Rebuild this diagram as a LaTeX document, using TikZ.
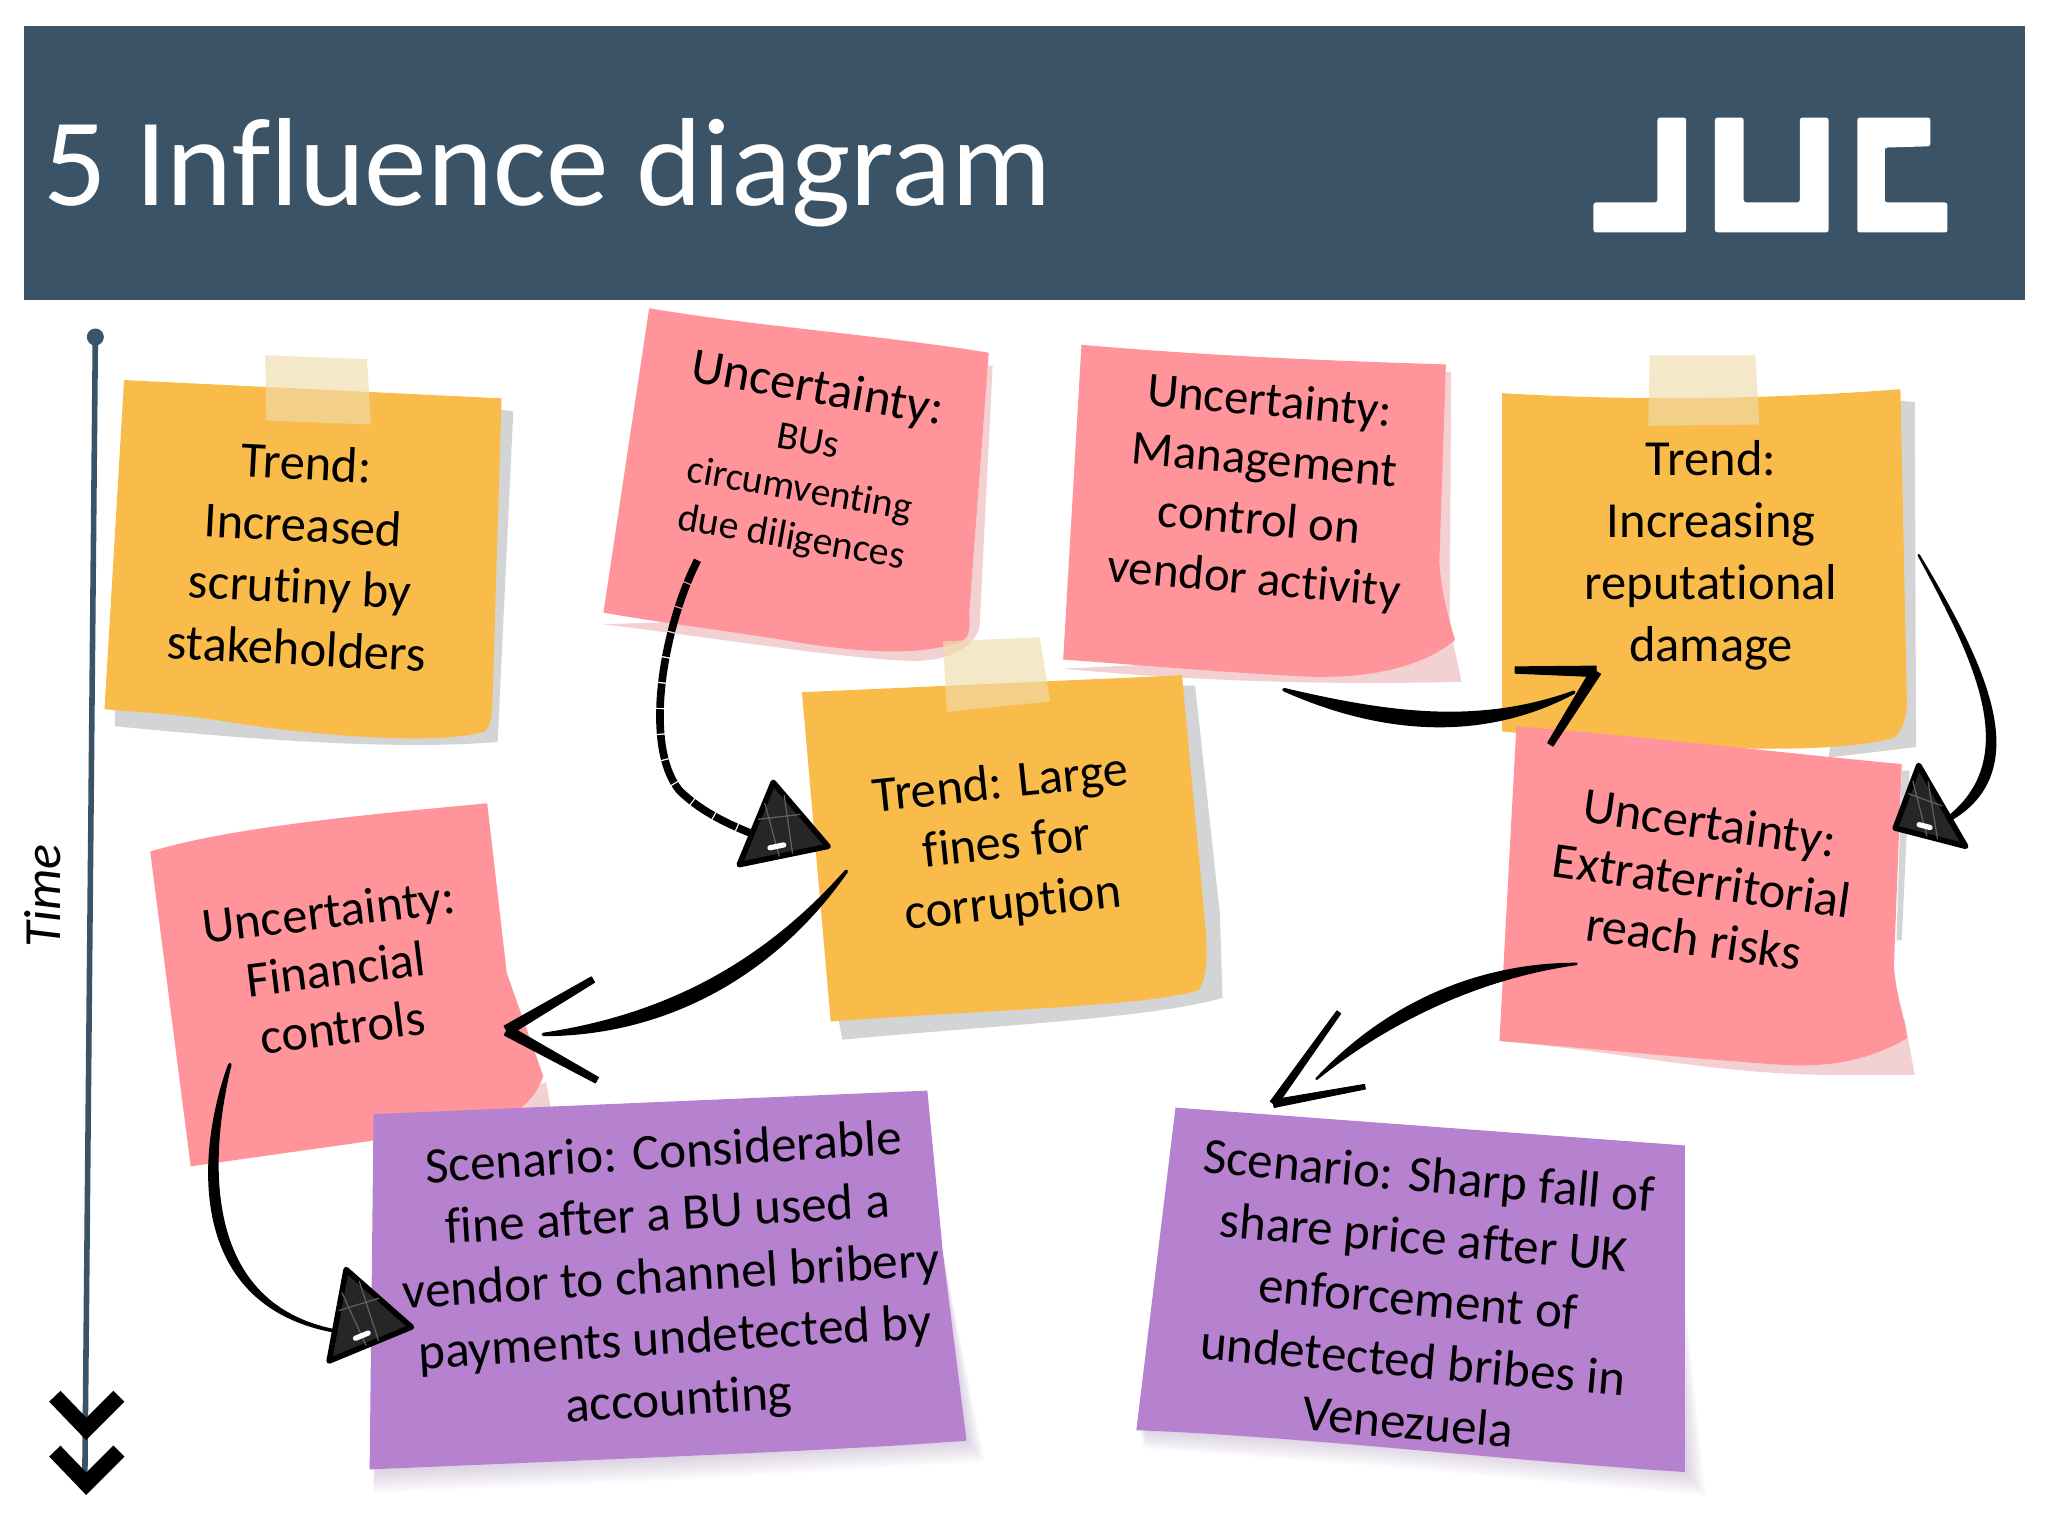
\documentclass[tikz,border=0pt]{standalone}
\usepackage{fontspec}
\setmainfont[Ligatures=NoCommon]{Carlito}
\usetikzlibrary{calc}
\definecolor{slate}{RGB}{58,83,102}
\definecolor{noteorange}{RGB}{249,188,74}
\definecolor{notepink}{RGB}{255,149,155}
\definecolor{notepurple}{RGB}{182,129,207}
\definecolor{shadegrey}{RGB}{211,212,214}
\definecolor{shadepink}{RGB}{243,208,210}
\definecolor{tapecol}{RGB}{240,220,171}
\tikzset{
  notetext/.style={align=center,inner sep=0pt,font=\fontsize{29}{35.5}\selectfont},
  tape/.style={fill=tapecol,fill opacity=0.65},
  sketch/.style={draw=black,fill=black,line width=2pt,line join=round,line cap=round},
  thinsketch/.style={sketch,line width=1.4pt},
  chevron/.style={draw=black,line width=9pt,line join=miter},
}
% scribbled triangle head
\newcommand{\scribblehead}[3]{%
  \draw[draw=black,fill=black!85,line width=3.2pt,line join=round] (#1) -- (#2) -- (#3) -- cycle;
  \draw[black!62,line width=0.7pt] ($(#1)!.25!(#2)$) -- ($(#3)!.55!(#2)$) ($(#1)!.45!(#2)$) -- ($(#1)!.5!(#3)$) ($(#1)!.2!(#3)$) -- ($(#2)!.6!(#3)$);
  \draw[white,line width=3pt,line cap=round] ($(#2)!.34!(#3)!.14!(#1)$) -- ($(#2)!.52!(#3)!.14!(#1)$);
}
% one barb of an open head, tapering away from the tip
\newcommand{\taperbarb}[3][3pt]{%
  \fill[line join=round,draw=black,line width=0.6pt] ($(#2)!#1!90:(#3)$) -- ($(#3)!{0.6*#1}!-90:(#2)$) -- ($(#3)!{0.6*#1}!90:(#2)$) -- ($(#2)!#1!-90:(#3)$) -- cycle;
}
\begin{document}
\begin{tikzpicture}[x=0.75pt,y=0.75pt,yscale=-1,xscale=1]
\useasboundingbox (0,0) rectangle (1568,1176);
\fill[white] (0,0) rectangle (1568,1176);

% banner
\fill[slate] (18,20) rectangle (1550,230);
\node (title) [anchor=base west,inner sep=0pt,text=white,font=\fontsize{72}{80}\selectfont] at (33,157) {5 Influence diagram};
\fill[white,rounded corners=1.5pt] (1269,90) -- (1291,90) -- (1291,178) -- (1220,178) -- (1220,155) -- (1269,155) -- cycle;
\fill[white,rounded corners=1.5pt] (1313,90) -- (1335,90) -- (1335,155) -- (1378,155) -- (1378,90) -- (1400,90) -- (1400,178) -- (1313,178) -- cycle;
\fill[white,rounded corners=1.5pt] (1422,90) -- (1478,90) -- (1478,112) -- (1443,113) -- (1443,155) -- (1491,155) -- (1491,178) -- (1422,178) -- cycle;

% time axis
\coordinate (timeStart) at (73,258);
\coordinate (timeEnd) at (65,1128);
\draw[slate,line width=3.2pt] (timeStart) -- (timeEnd);
\fill[slate] (timeStart) circle (6.5);
\draw[chevron] (42,1069) -- (66,1094) -- (91,1069);
\draw[chevron] (42,1111) -- (66,1136) -- (91,1111);
\node (time) [rotate=90,inner sep=0pt,font=\itshape\fontsize{30}{32}\selectfont] at (33,686) {Time};

% note shadows
\fill[shadegrey] (370,312) -- (393,315) -- (381,568) .. controls (300,575) and (180,565) .. (88,556) -- (88,530) -- cycle;
\fill[shadepink] (462,478) .. controls (560,490) and (650,505) .. (700,506) .. controls (725,506) and (745,497) .. (750,480) -- (760,280) -- (740,280) -- (700,470) -- cycle;
\fill[shadepink] (814,512) .. controls (900,520) and (1000,525) .. (1119,522) -- (1110,480) -- (1111,285) -- (1090,285) -- (1060,500) -- cycle;
\fill[shadegrey] (1440,305) -- (1466,308) -- (1467,572) -- (1400,580) -- cycle;

% notes, top row
\fill[noteorange] (95,291) -- (384,305) -- (377,540) .. controls (376,552) and (375,556) .. (371,560) .. controls (340,570) and (250,565) .. (170,552) .. controls (130,546) and (100,545) .. (80,543) -- cycle;
\fill[notepink] (497,236) .. controls (580,250) and (670,256) .. (757,270) -- (742,470) .. controls (743,482) and (742,488) .. (736,491) .. controls (700,505) and (640,497) .. (600,490) .. controls (550,482) and (500,476) .. (462,469) -- cycle;
\fill[notepink] (828,264) .. controls (920,272) and (1010,276) .. (1107,279) -- (1102,430) .. controls (1103,450) and (1108,470) .. (1114,490) .. controls (1090,510) and (1050,520) .. (1000,518) .. controls (940,515) and (870,509) .. (814,505) -- cycle;
\fill[noteorange] (1150,301) .. controls (1250,307) and (1350,306) .. (1455,298) -- (1460,540) .. controls (1459,552) and (1456,560) .. (1450,565) .. controls (1400,578) and (1300,575) .. (1150,560) -- cycle;

% middle note
\fill[shadegrey] (905,525) -- (915,525) -- (934,700) -- (936,764) .. controls (880,780) and (760,785) .. (645,796) -- (640,770) -- cycle;
\fill[noteorange] (614,530) -- (905,517) -- (922,700) .. controls (925,730) and (925,745) .. (918,758) .. controls (880,770) and (780,772) .. (636,782) -- cycle;

% lower pink notes
\fill[shadepink] (380,850) -- (418,828) -- (422,850) -- (300,880) -- cycle;
\fill[notepink] (115,652) .. controls (180,632) and (300,622) .. (373,615) -- (388,745) -- (416,824) .. controls (410,840) and (400,850) .. (380,860) -- (146,893) -- cycle;
\fill[shadegrey] (1456,590) -- (1462,590) -- (1456,720) -- (1452,720) -- cycle;
\fill[shadepink] (1148,797) .. controls (1240,805) and (1310,822) .. (1400,823) -- (1466,823) -- (1458,780) -- cycle;
\fill[notepink] (1161,556) .. controls (1260,564) and (1360,576) .. (1456,585) -- (1450,740) .. controls (1452,765) and (1459,780) .. (1460,795) .. controls (1430,812) and (1400,818) .. (1360,815) .. controls (1290,810) and (1210,802) .. (1148,797) -- cycle;

% tapes
\fill[tape] (203,272) -- (281,275) -- (284,325) -- (204,322) -- cycle;
\fill[tape] (1263,272) -- (1344,272) -- (1347,325) -- (1262,326) -- cycle;
\fill[tape] (722,491) -- (796,488) -- (804,537) -- (725,545) -- cycle;

% scenario notes
\foreach \sh in {2,4,...,20} {
  \fill[notepurple!60!gray,fill opacity=0.035] (300,870) -- (700,870) -- (722,960) -- ({740+\sh*0.7},{1103+\sh*0.8}) -- (520,{1115+\sh*0.9}) -- (286,{1125+\sh*0.9}) -- cycle;
  \fill[notepurple!60!gray,fill opacity=0.035] (910,880) -- (1280,900) -- ({1290+\sh*0.8},{1127+\sh*0.9}) -- (1060,{1105+\sh*0.9}) -- ({872+\sh*0.2},{1095+\sh*0.7}) -- cycle;
}
\fill[notepurple] (286,853) -- (710,835) -- (722,960) -- (740,1103) .. controls (650,1110) and (520,1115) .. (283,1125) -- cycle;
\fill[notepurple] (900,848) -- (1290,877) -- (1290,1127) .. controls (1150,1118) and (1000,1100) .. (870,1095) -- cycle;

% note texts
\node (stakeholders) [notetext,rotate=-3] at (231,425) {Trend:\\Increased\\scrutiny by\\stakeholders};
\node (bus) [notetext,rotate=-10,font=\fontsize{22.8}{28}\selectfont] at (616,354) {{\fontsize{29}{35}\selectfont Uncertainty:}\\[1pt]BUs\\circumventing\\due diligences};
\node (vendor) [notetext,rotate=-5,font=\fontsize{28}{34.2}\selectfont] at (966,377) {Uncertainty:\\Management\\control on\\vendor activity};
\node (reputation) [notetext] at (1310,425) {Trend:\\Increasing\\reputational\\damage};
\node (fines) [notetext,rotate=6,font=\fontsize{29}{34.5}\selectfont] at (771,647) {Trend: Large\\fines for\\corruption};
\node (controls) [notetext,rotate=7,font=\fontsize{29}{33.5}\selectfont] at (257,742) {Uncertainty:\\Financial\\controls};
\node (reach) [notetext,rotate=-8,font=\fontsize{29}{33.5}\selectfont] at (1303,674) {Uncertainty:\\Extraterritorial\\reach risks};
\node (fine) [notetext,rotate=3.5,font=\fontsize{29.3}{35.5}\selectfont] at (514,979) {Scenario: Considerable\\fine after a BU used a\\vendor to channel bribery\\payments undetected by\\accounting};
\node (sharefall) [notetext,rotate=-5,font=\fontsize{29.2}{35.5}\selectfont] at (1086,994) {Scenario: Sharp fall of\\share price after UK\\enforcement of\\undetected bribes in\\Venezuela};

% connector ends
\coordinate (busOut) at (534,429);
\coordinate (finesIn) at (634,648);
\coordinate (finesOut) at (648,667);
\coordinate (controlsIn) at (388,789);
\coordinate (controlsOut) at (176,815);
\coordinate (fineIn) at (315,1016);
\coordinate (vendorOut) at (983,528);
\coordinate (reputationIn) at (1222,514);
\coordinate (reputationOut) at (1469,425);
\coordinate (reachIn) at (1451,634);
\coordinate (reachOut) at (1207,738);
\coordinate (sharefallIn) at (975,845);

% bus note to fines
\draw[black,line width=4.4pt,dash pattern=on 14pt off 0.8pt] (busOut) .. controls (508,480) and (492,570) .. (520,605) .. controls (535,620) and (555,630) .. (575,638);
\scribblehead{592,599}{566,662}{finesIn}

% fines to financial controls
\draw[sketch] (finesOut) .. controls (585,738) and (510,778) .. (416,792) .. controls (505,792) and (590,750) .. (finesOut);
\taperbarb{controlsIn}{454,750}
\taperbarb{controlsIn}{457,827}

% financial controls to scenario
\draw[sketch] (controlsOut) .. controls (152,880) and (141,1002) .. (262,1020) .. controls (149,1002) and (160,880) .. (controlsOut);
\scribblehead{265,972}{252,1042}{fineIn}

% vendor note to reputational damage
\draw[sketch] (vendorOut) .. controls (1050,558) and (1130,570) .. (1205,530) .. controls (1130,557) and (1060,546) .. (vendorOut);
\taperbarb{reputationIn}{1160,513}
\taperbarb{reputationIn}{1187,570}

% reputational damage to reach risks
\draw[thinsketch] (reputationOut) .. controls (1520,510) and (1566,600) .. (1478,635) .. controls (1555,590) and (1515,510) .. (reputationOut);
\scribblehead{1469,586}{reachIn}{1505,648}

% reach risks to scenario
\draw[thinsketch] (reachOut) .. controls (1130,738) and (1060,770) .. (1008,826) .. controls (1065,780) and (1135,748) .. (reachOut);
\taperbarb[2.2pt]{sharefallIn}{1025,775}
\taperbarb[2.2pt]{sharefallIn}{1045,832}
\end{tikzpicture}
\end{document}
